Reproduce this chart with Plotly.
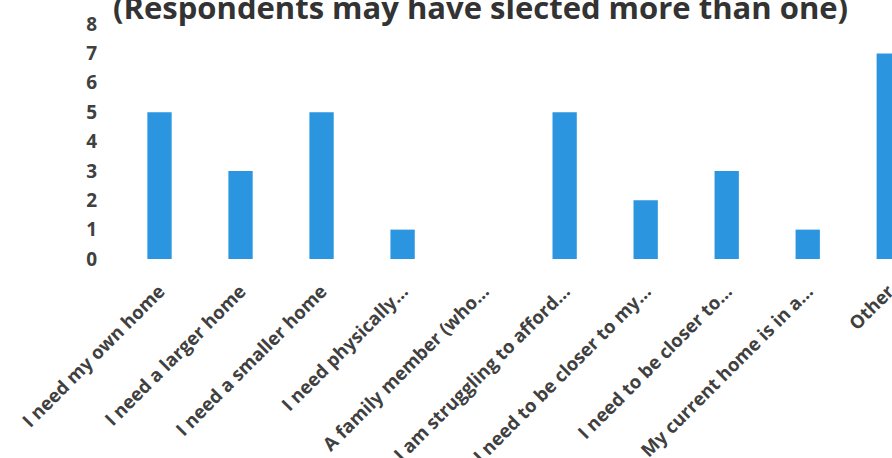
import plotly.graph_objects as go

categories = [
    "I need my own home",
    "I need a larger home",
    "I need a smaller home",
    "I need physically...",
    "A family member (who...",
    "I am struggling to afford...",
    "I need to be closer to my...",
    "I need to be closer to...",
    "My current home is in a...",
    "Other",
]
values = [5, 3, 5, 1, 0, 5, 2, 3, 1, 7]
y_ticks = [0, 1, 2, 3, 4, 5, 6, 7, 8]
title_text = "(Respondents may have slected more than one)"

FONT = "Open Sans"
fig = go.Figure(go.Bar(x=list(range(len(categories))), y=values, marker_color="#2B96DF",
                       marker_line_width=0))
fig.update_layout(
    width=892, height=458,
    margin=dict(l=119, r=0, t=24, b=199),
    paper_bgcolor="white", plot_bgcolor="white",
    bargap=0.7, showlegend=False,
    font=dict(family=FONT, color="#404040"),
)
fig.update_xaxes(
    tickmode="array", tickvals=list(range(len(categories))), ticktext=categories,
    range=[-0.5, 9.04], tickangle=-45, showgrid=False, zeroline=False, showline=False,
    ticks="", tickfont=dict(family=FONT, size=18.5, color="#404040", weight="bold"),
    ticklabelstandoff=17, ticklabeloverflow="allow", automargin=False,
)
fig.update_yaxes(
    range=[0, 8], tickvals=y_ticks, showgrid=False, zeroline=False, showline=False,
    ticks="", tickfont=dict(family=FONT, size=19, color="#404040", weight="bold"),
    ticklabelstandoff=21, automargin=False,
)
fig.add_annotation(
    text=title_text, xref="paper", yref="paper", x=(480 - 119) / (892 - 119), y=1,
    xanchor="center", yanchor="bottom", yshift=-6, showarrow=False,
    font=dict(family=FONT, size=31, color="#333333", weight="bold"),
)
fig.write_html("out.html")
